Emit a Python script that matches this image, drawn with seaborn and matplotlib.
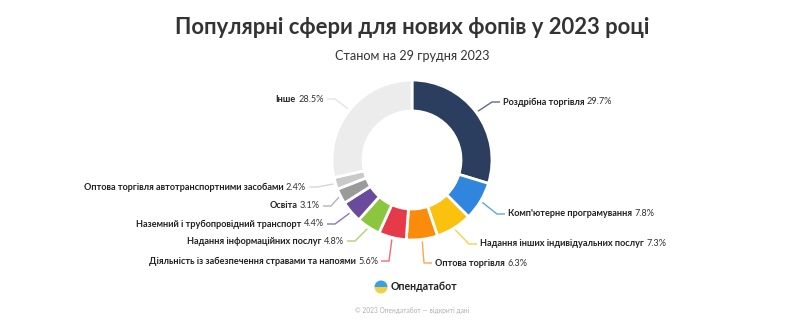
import numpy as np
import matplotlib
matplotlib.use("Agg")
import matplotlib.pyplot as plt
from matplotlib.patches import Wedge
import seaborn as sns

# ---- data ----
categories = [
    "Роздрібна торгівля",
    "Комп'ютерне програмування",
    "Надання інших індивідуальних послуг",
    "Оптова торгівля",
    "Діяльність із забезпечення стравами та напоями",
    "Надання інформаційних послуг",
    "Наземний і трубопровідний транспорт",
    "Освіта",
    "Оптова торгівля автотранспортними засобами",
    "Інше",
]
values = [29.7, 7.8, 7.3, 6.3, 5.6, 4.8, 4.4, 3.1, 2.4, 28.5]
colors = ["#2c3e5f", "#2f86dc", "#fac10f", "#fb8b0a", "#e63a4b",
          "#8cc63f", "#6a4b9b", "#9a9a9a", "#c9c9c9", "#ececec"]
title = "Популярні сфери для нових фопів у 2023 році"
subtitle = "Станом на 29 грудня 2023"
brand = "Опендатабот"
footer = "© 2023 Опендатабот — відкриті дані"

# ---- layout (pixel positions, y from top) ----
W, H = 800, 326
CX, CY, R, RW = 412, 160, 80, 31
label_pos = [
    (503, 102, "right"),
    (508, 214, "right"),
    (480, 244, "right"),
    (435, 263, "right"),
    (378, 261, "left"),
    (344, 241, "left"),
    (324, 224, "left"),
    (320, 206, "left"),
    (306, 187, "left"),
    (324, 99, "left"),
]
FS = 6.6

sns.set_theme(style="white")
plt.rcParams["font.family"] = ["Lato", "DejaVu Sans"]

fig = plt.figure(figsize=(W / 100, H / 100), dpi=100)
fig.patch.set_facecolor("white")
ax = fig.add_axes([0, 0, 1, 1])

def Y(py):
    return H - py

palette = sns.color_palette(colors)
wedges, _ = ax.pie(values, colors=palette, startangle=90, counterclock=False,
                   center=(CX, Y(CY)), radius=R,
                   wedgeprops=dict(width=RW, edgecolor="white", linewidth=2,
                                   joinstyle="round"))
ax.set_xlim(0, W)
ax.set_ylim(0, H)
ax.set_aspect("equal")
ax.axis("off")

fig.canvas.draw()
renderer = fig.canvas.get_renderer()

total = sum(values)
cum = 0.0
for i, (cat, v) in enumerate(zip(categories, values)):
    mid = (cum + v / 2) / total * 360.0
    cum += v
    th = np.deg2rad(mid)
    lx, ly, side = label_pos[i]
    r0 = R + 2
    sx, sy = CX + r0 * np.sin(th), CY - r0 * np.cos(th)
    lc = colors[i] if i != len(values) - 1 else "#dcdcdc"
    if side == "right":
        ex = lx - 3
        elx = ex - 8
    else:
        ex = lx + 3
        elx = ex + 8
    ax.plot([sx, elx, ex], [Y(sy), Y(ly), Y(ly)], color=lc, lw=1.0, alpha=0.75,
            solid_capstyle="butt", zorder=1)
    pct = f"{v}%"
    if side == "right":
        t1 = ax.text(lx, Y(ly), cat, ha="left", va="center", fontsize=FS,
                     fontweight="bold", color="#222222")
        bb = t1.get_window_extent(renderer)
        ax.text(bb.x1 + 2.5, Y(ly), pct, ha="left", va="center", fontsize=FS,
                color="#333333")
    else:
        t2 = ax.text(lx, Y(ly), pct, ha="right", va="center", fontsize=FS,
                     color="#333333")
        bb = t2.get_window_extent(renderer)
        ax.text(bb.x0 - 2.5, Y(ly), cat, ha="right", va="center", fontsize=FS,
                fontweight="bold", color="#222222")

# titles
ax.text(W / 2 + 12, Y(28), title, ha="center", va="center", fontsize=15.8,
        fontweight="bold", color="#333333")
ax.text(W / 2 + 12, Y(56), subtitle, ha="center", va="center", fontsize=9.1,
        color="#333333")

# logo
lcx, lcy, lr = 381, 287, 6.5
ax.add_patch(Wedge((lcx, Y(lcy)), lr, 0, 180, facecolor="#3b9fe3", edgecolor="none"))
ax.add_patch(Wedge((lcx, Y(lcy)), lr, 180, 360, facecolor="#f3d03e", edgecolor="none"))
ax.text(391, Y(287), brand, ha="left", va="center", fontsize=7.6,
        fontweight="bold", color="#222222")
ax.text(W / 2 + 12, Y(310), footer, ha="center", va="center", fontsize=4.8,
        color="#b0b0b0")

fig.savefig("out.png", dpi=100, facecolor="white")
